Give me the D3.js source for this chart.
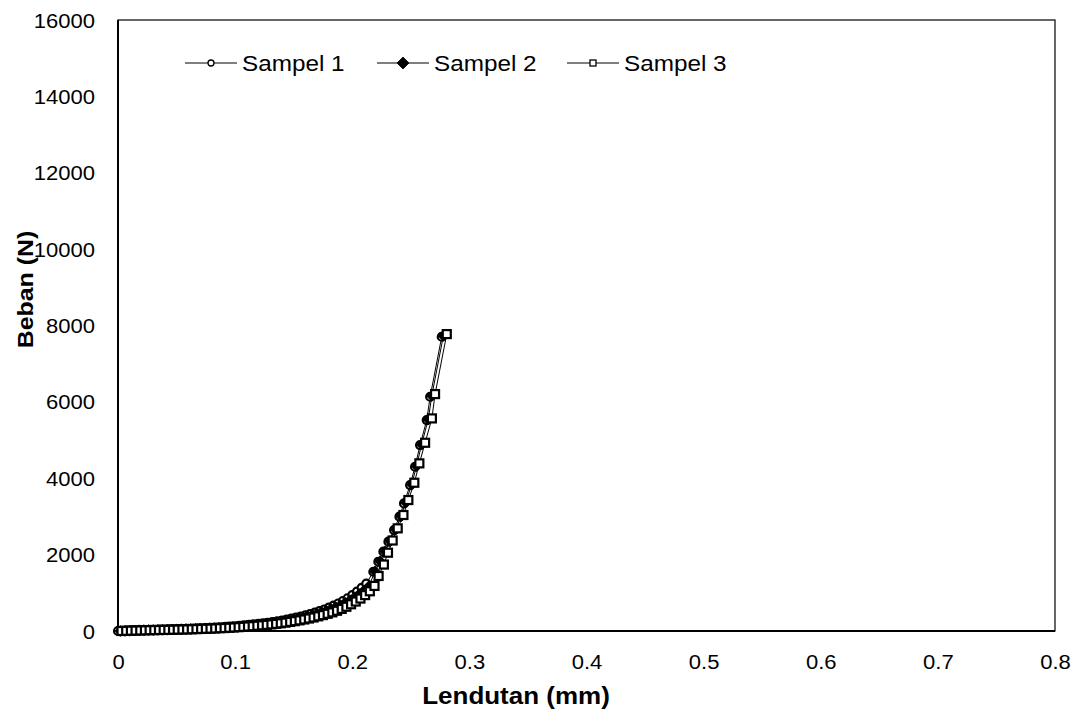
<!DOCTYPE html>
<html>
<head>
<meta charset="utf-8">
<script src="https://cdn.jsdelivr.net/npm/d3@7"></script>
<style>
  html, body { margin: 0; padding: 0; background: #fff; }
  svg { display: block; font-family: "Liberation Sans", Arial, sans-serif; }
</style>
</head>
<body>
<svg id="chart" width="1073" height="726"></svg>
<script>
// ---------- data ----------
const xTicks = [0, 0.1, 0.2, 0.3, 0.4, 0.5, 0.6, 0.7, 0.8];
const yTicks = [0, 2000, 4000, 6000, 8000, 10000, 12000, 14000, 16000];
const seriesNames = ["Sampel 1", "Sampel 2", "Sampel 3"];

const sampel1X = [0,0.004,0.008,0.012,0.016,0.02,0.024,0.028,0.032,0.036,0.04,0.044,0.048,0.052,0.056,0.06,0.064,0.068,0.072,0.076,0.08,0.084,0.088,0.092,0.096,0.1,0.104,0.108,0.112,0.116,0.12,0.124,0.128,0.132,0.136,0.14,0.144,0.148,0.152,0.156,0.16,0.164,0.168,0.172,0.176,0.18,0.184,0.188,0.192,0.196,0.2,0.204,0.208,0.212,
  0.218,0.2223,0.2266,0.2309,0.2357,0.2403,0.2442,0.2494,0.2536,0.2579,0.2636,0.2665,0.2764];
const sampel1Y = [0,5,10,14,18,22,26,29,32,35,38,41,45,49,53,57,62,67,72,78,84,91,98,106,115,125,135,146,158,171,185,200,216,234,253,274,297,322,349,378,409,443,480,520,563,610,662,720,785,858,940,1030,1130,1238,
  1552,1814,2076,2338,2644,2993,3342,3822,4301,4869,5524,6134,7705];

const sampel2X = [0.002,0.006,0.01,0.014,0.018,0.022,0.026,0.03,0.034,0.038,0.042,0.046,0.05,0.054,0.058,0.062,0.066,0.07,0.074,0.078,0.082,0.086,0.09,0.094,0.098,0.102,0.106,0.11,0.114,0.118,0.122,0.126,0.13,0.134,0.138,0.142,0.146,0.15,0.154,0.158,0.162,0.166,0.17,0.174,0.178,0.182,0.186,0.19,0.194,0.198,0.202,0.206,0.21,0.214,
  0.2195,0.2238,0.228,0.2323,0.2371,0.2417,0.2456,0.2508,0.2549,0.2592,0.2649,0.2679,0.2778];
const sampel2Y = [0,5,9,13,17,21,24,27,30,33,36,39,42,46,50,54,58,63,68,73,79,86,92,100,108,118,127,137,149,161,174,188,203,220,238,258,279,303,328,355,384,416,451,489,529,573,622,677,738,807,884,968,1062,1164,
  1560,1825,2085,2350,2660,3005,3365,3840,4320,4885,5540,6160,7730];

const sampel3X = [0.003,0.007,0.011,0.015,0.019,0.023,0.027,0.031,0.035,0.039,0.043,0.047,0.051,0.055,0.059,0.063,0.067,0.071,0.075,0.079,0.083,0.087,0.091,0.095,0.099,0.103,0.107,0.111,0.115,0.119,0.123,0.127,0.131,0.135,0.139,0.143,0.147,0.151,0.155,0.159,0.163,0.167,0.171,0.175,0.179,0.183,0.187,0.191,0.195,0.199,0.203,0.207,0.211,0.215,
  0.219,0.2225,0.227,0.2305,0.2345,0.2388,0.2437,0.2479,0.253,0.2573,0.2622,0.268,0.2707,0.2807];
const sampel3Y = [0,4,8,11,14,18,21,23,26,28,30,33,36,39,42,46,50,54,58,62,67,73,78,85,92,100,108,117,126,137,148,160,173,187,202,219,238,258,279,302,327,354,384,416,450,488,530,578,635,700,772,850,940,1040,
  1180,1440,1740,2050,2370,2688,3037,3429,3882,4390,4929,5567,6204,7775];

// ---------- layout ----------
const svg = d3.select("#chart");
const plotLeft = 118, plotRight = 1055, plotTop = 20, plotBottom = 631;
const stretch = 1.13;
const x = d3.scaleLinear().domain([0, 0.8]).range([plotLeft, plotRight]);
const y = d3.scaleLinear().domain([0, 16000]).range([plotBottom, plotTop]);

svg.append("rect").attr("width", 1073).attr("height", 726).attr("fill", "#fff");

// frame
svg.append("rect").attr("x", plotLeft).attr("y", plotTop)
  .attr("width", plotRight - plotLeft).attr("height", plotBottom - plotTop)
  .attr("fill", "none").attr("stroke", "#000").attr("stroke-width", 1.2);

// x axis
const gx = svg.append("g").attr("transform", `translate(0,${plotBottom})`)
  .call(d3.axisBottom(x).tickValues(xTicks).tickSize(0).tickPadding(0)
    .tickFormat(d => d === 0 ? "0" : d3.format(".1f")(d)));
gx.select(".domain").remove();
gx.selectAll("text").attr("y", 0).attr("dy", null)
  .attr("transform", `translate(0,37.5) scale(${stretch},1)`)
  .attr("font-size", 19.5).attr("font-family", '"Liberation Sans", Arial, sans-serif')
  .attr("fill", "#000");

// y axis
const gy = svg.append("g").attr("transform", `translate(${plotLeft},0)`)
  .call(d3.axisLeft(y).tickValues(yTicks).tickSize(0).tickPadding(0).tickFormat(d3.format("d")));
gy.select(".domain").remove();
gy.selectAll("text").attr("x", 0).attr("dy", null).attr("y", 0)
  .attr("transform", `translate(-23,7) scale(${stretch},1)`)
  .attr("font-size", 19.5).attr("font-family", '"Liberation Sans", Arial, sans-serif')
  .attr("fill", "#000");

// thicker left and bottom axis lines
svg.append("line").attr("x1", plotLeft).attr("x2", plotLeft).attr("y1", plotTop).attr("y2", plotBottom)
  .attr("stroke", "#000").attr("stroke-width", 2);
svg.append("line").attr("x1", plotLeft - 1).attr("x2", plotRight).attr("y1", plotBottom).attr("y2", plotBottom)
  .attr("stroke", "#000").attr("stroke-width", 2);

// axis titles
svg.append("text")
  .attr("transform", `translate(516,704) scale(${stretch},1)`)
  .attr("text-anchor", "middle").attr("font-size", 23).attr("font-weight", "bold")
  .text("Lendutan (mm)");
svg.append("text")
  .attr("transform", `translate(33,${(plotTop + plotBottom) / 2 - 36}) rotate(-90) scale(${stretch},1)`)
  .attr("text-anchor", "middle").attr("font-size", 22).attr("font-weight", "bold")
  .text("Beban (N)");

// ---------- series ----------
const series = [
  { name: seriesNames[0], xs: sampel1X, ys: sampel1Y, marker: "circle" },
  { name: seriesNames[1], xs: sampel2X, ys: sampel2Y, marker: "diamond" },
  { name: seriesNames[2], xs: sampel3X, ys: sampel3Y, marker: "square" }
];

function drawMarker(g, type, cx, cy, big) {
  if (type === "circle") {
    g.append("circle").attr("cx", cx).attr("cy", cy).attr("r", big ? 3 : 4)
      .attr("fill", "#fff").attr("stroke", "#000").attr("stroke-width", big ? 1.3 : 2.2);
  } else if (type === "diamond") {
    const r = big ? 6 : 5.5;
    g.append("path").attr("d", `M${cx},${cy - r}L${cx + r},${cy}L${cx},${cy + r}L${cx - r},${cy}Z`)
      .attr("fill", "#000").attr("stroke", "#000").attr("stroke-width", 0.8);
  } else {
    const h = big ? 3 : 4;
    g.append("rect").attr("x", cx - h).attr("y", cy - h).attr("width", 2 * h).attr("height", 2 * h)
      .attr("fill", "#fff").attr("stroke", "#000").attr("stroke-width", big ? 1.3 : 2.2);
  }
}

const line = d3.line().x(d => x(d[0])).y(d => y(d[1]));
series.forEach(s => {
  const pts = s.xs.map((v, i) => [v, s.ys[i]]);
  const g = svg.append("g");
  g.append("path").datum(pts).attr("d", line)
    .attr("fill", "none").attr("stroke", "#000").attr("stroke-width", 1);
  pts.forEach(p => drawMarker(g, s.marker, x(p[0]), y(p[1]), false));
});

// ---------- legend ----------
const legendStarts = [185, 377, 567];
series.forEach((s, i) => {
  const lx = legendStarts[i], ly = 63;
  const g = svg.append("g");
  g.append("line").attr("x1", lx).attr("x2", lx + 52).attr("y1", ly).attr("y2", ly)
    .attr("stroke", "#000").attr("stroke-width", 1.2);
  drawMarker(g, s.marker, lx + 26, ly, true);
  g.append("text").attr("transform", `translate(${lx + 57},${ly + 8}) scale(${stretch},1)`)
    .attr("font-size", 21.5).text(s.name);
});
</script>
</body>
</html>
